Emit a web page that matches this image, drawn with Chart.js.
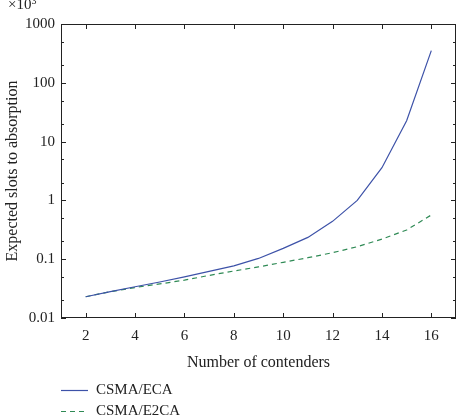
<!DOCTYPE html>
<html>
<head>
<meta charset="utf-8">
<script src="https://cdn.jsdelivr.net/npm/chart.js@4"></script>
<style>
  body { margin: 0; background: #fff; }
  #wrap { width: 463px; height: 420px; position: relative; }
</style>
</head>
<body>
<div id="wrap"><canvas id="slotsChart"></canvas></div>
<script>
// --- data (values are x10^3 slots) ---
const contenders = [2, 3, 4, 5, 6, 7, 8, 9, 10, 11, 12, 13, 14, 15, 16];
const ecaSlots = [0.023, 0.028, 0.034, 0.041, 0.050, 0.062, 0.077, 0.103, 0.153, 0.235, 0.44, 1.0, 3.6, 22.7, 352];
const e2caSlots = [0.023, 0.028, 0.033, 0.038, 0.044, 0.053, 0.063, 0.074, 0.0886, 0.106, 0.129, 0.163, 0.22, 0.314, 0.565];
const xTicks = [2, 4, 6, 8, 10, 12, 14, 16];
const yTicks = [0.01, 0.1, 1, 10, 100, 1000];
const yTickLabels = ['0.01', '0.1', '1', '10', '100', '1000'];
const yMinorSteps = [2, 5];

const FONT = "'Liberation Serif', 'DejaVu Serif', serif";

const toPoints = (ys) => contenders.map((x, i) => ({ x: x, y: ys[i] }));

// box, inward ticks, legend and the x10^3 note
const framePlugin = {
    id: 'frame',
    afterDraw(chart) {
        const { ctx, chartArea: a, scales } = chart;
        const xs = scales.x, ys = scales.y;
        ctx.save();
        ctx.strokeStyle = '#222';
        ctx.lineWidth = 1;
        ctx.strokeRect(a.left + 0.5, a.top + 0.5, a.right - a.left - 1, a.bottom - a.top - 1);

        ctx.beginPath();
        xTicks.forEach(v => {
            const px = Math.round(xs.getPixelForValue(v)) + 0.5;
            ctx.moveTo(px, a.bottom); ctx.lineTo(px, a.bottom - 5);
            ctx.moveTo(px, a.top); ctx.lineTo(px, a.top + 5);
        });
        yTicks.forEach((v, i) => {
            const py = Math.round(ys.getPixelForValue(v)) + 0.5;
            ctx.moveTo(a.left, py); ctx.lineTo(a.left + 5, py);
            ctx.moveTo(a.right, py); ctx.lineTo(a.right - 5, py);
            if (i < yTicks.length - 1) {
                yMinorSteps.forEach(m => {
                    const pm = Math.round(ys.getPixelForValue(v * m)) + 0.5;
                    ctx.moveTo(a.left, pm); ctx.lineTo(a.left + 3, pm);
                    ctx.moveTo(a.right, pm); ctx.lineTo(a.right - 3, pm);
                });
            }
        });
        ctx.stroke();

        // multiplier note
        ctx.fillStyle = '#222';
        ctx.font = '15px ' + FONT;
        ctx.textBaseline = 'alphabetic';
        ctx.textAlign = 'left';
        ctx.fillText('\u00d710', 8, 9);
        const w = ctx.measureText('\u00d710').width;
        ctx.font = '10px ' + FONT;
        ctx.fillText('3', 8 + w, 4);

        // legend
        ctx.font = '15px ' + FONT;
        ctx.textBaseline = 'middle';
        chart.data.datasets.forEach((ds, i) => {
            const y = 390 + i * 21 + 0.5;
            ctx.strokeStyle = ds.borderColor;
            ctx.lineWidth = ds.borderWidth;
            ctx.setLineDash(ds.borderDash || []);
            ctx.beginPath();
            ctx.moveTo(61, y); ctx.lineTo(88, y);
            ctx.stroke();
            ctx.setLineDash([]);
            ctx.fillStyle = '#222';
            ctx.fillText(ds.label, 96, y);
        });
        ctx.restore();
    }
};

new Chart(document.getElementById('slotsChart'), {
    type: 'line',
    data: {
        datasets: [{
            label: 'CSMA/ECA',
            data: toPoints(ecaSlots),
            borderColor: '#3d52a8',
            borderWidth: 1.2,
            pointRadius: 0,
            tension: 0,
            fill: false
        }, {
            label: 'CSMA/E2CA',
            data: toPoints(e2caSlots),
            borderColor: '#2f8a55',
            borderWidth: 1.2,
            borderDash: [5, 4],
            pointRadius: 0,
            tension: 0,
            fill: false
        }]
    },
    options: {
        responsive: true,
        maintainAspectRatio: false,
        animation: false,
        layout: { padding: { top: 24, right: 7, left: 0, bottom: 48 } },
        plugins: {
            legend: { display: false },
            tooltip: { enabled: false }
        },
        scales: {
            x: {
                type: 'linear',
                min: 1,
                max: 17,
                afterBuildTicks: (s) => { s.ticks = xTicks.map(v => ({ value: v })); },
                afterFit: (s) => { s.height = 54; },
                grid: { display: false, drawTicks: false },
                border: { display: false },
                ticks: {
                    color: '#222',
                    padding: 9,
                    maxRotation: 0,
                    font: { family: FONT, size: 15 }
                },
                title: {
                    display: true,
                    text: 'Number of contenders',
                    color: '#222',
                    padding: 0,
                    font: { family: FONT, size: 16 }
                }
            },
            y: {
                type: 'logarithmic',
                min: 0.01,
                max: 1000,
                afterBuildTicks: (s) => { s.ticks = yTicks.map(v => ({ value: v })); },
                afterFit: (s) => { s.width = 61; },
                grid: { display: false, drawTicks: false },
                border: { display: false },
                ticks: {
                    color: '#222',
                    padding: 6,
                    font: { family: FONT, size: 15 },
                    callback: (v, i) => yTickLabels[i]
                },
                title: {
                    display: true,
                    text: 'Expected slots to absorption',
                    color: '#222',
                    padding: { top: 3, bottom: 0 },
                    font: { family: FONT, size: 16 }
                }
            }
        }
    },
    plugins: [framePlugin]
});
</script>
</body>
</html>
